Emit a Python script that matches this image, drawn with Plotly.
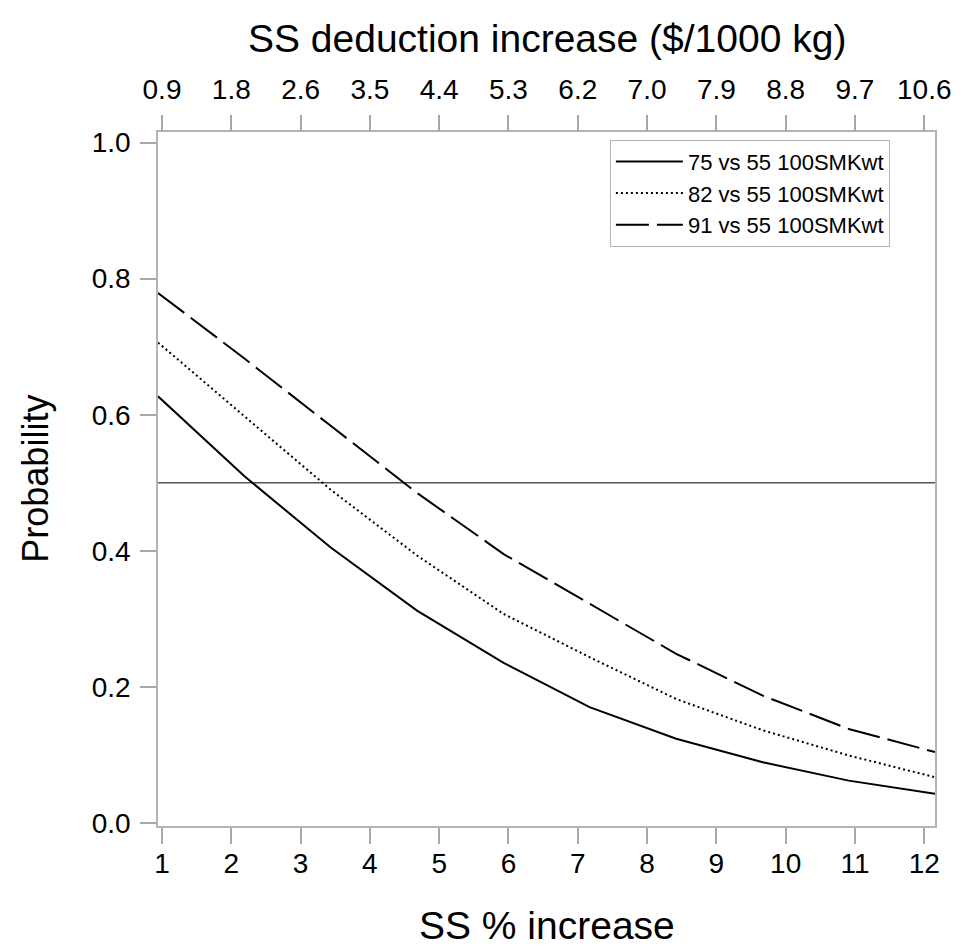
import plotly.graph_objects as go

# ---- data ----
X_NODES = [0.942, 2.19, 3.43, 4.68, 5.93, 7.17, 8.42, 9.67, 10.91, 12.155]
P_75 = [0.627, 0.5095, 0.405, 0.312, 0.235, 0.170, 0.1235, 0.089, 0.062, 0.0426]
P_82 = [0.706, 0.598, 0.490, 0.393, 0.307, 0.2435, 0.182, 0.136, 0.099, 0.067]
P_91 = [0.779, 0.6825, 0.584, 0.485, 0.395, 0.322, 0.2485, 0.187, 0.138, 0.104]
SERIES_NAMES = ["75 vs 55 100SMKwt", "82 vs 55 100SMKwt", "91 vs 55 100SMKwt"]

BOTTOM_TICKS = [1, 2, 3, 4, 5, 6, 7, 8, 9, 10, 11, 12]
TOP_LABELS = ["0.9", "1.8", "2.6", "3.5", "4.4", "5.3", "6.2", "7.0", "7.9", "8.8", "9.7", "10.6"]
Y_TICKS = [0.0, 0.2, 0.4, 0.6, 0.8, 1.0]
REF_PROB = 0.5

X_TITLE = "SS % increase"
TOP_TITLE = "SS deduction increase ($/1000 kg)"
Y_TITLE = "Probability"

FONT = "Liberation Sans, Arial, sans-serif"
FRAME = "#b4b4b4"
TICKC = "#a8a8a8"

fig = go.Figure()
dashes = ["solid", "2px,3px", "33px,8px"]
for name, ys, dash in zip(SERIES_NAMES, [P_75, P_82, P_91], dashes):
    fig.add_trace(go.Scatter(x=X_NODES, y=ys, mode="lines", name=name,
                             line=dict(color="black", width=2, dash=dash)))

# invisible trace to activate top axis
fig.add_trace(go.Scatter(x=BOTTOM_TICKS, y=[None] * len(BOTTOM_TICKS), xaxis="x2",
                         mode="lines", showlegend=False, hoverinfo="skip"))

fig.add_shape(type="line", xref="paper", x0=0, x1=1, yref="y", y0=REF_PROB, y1=REF_PROB,
              line=dict(color="#555555", width=1.5), layer="below")

XR = [0.942, 12.155]
TICKFONT = dict(size=28)
fig.update_layout(
    width=965, height=950, autosize=False,
    margin=dict(l=158, r=30, t=132, b=124),
    paper_bgcolor="white", plot_bgcolor="white",
    font=dict(family=FONT, color="black"),
    showlegend=True,
    legend=dict(x=0.5816, y=0.989, xanchor="left", yanchor="top",
                bgcolor="white", bordercolor=FRAME, borderwidth=1,
                font=dict(size=22, family=FONT), itemwidth=67,
                tracegroupgap=0),
    xaxis=dict(range=XR, tickvals=BOTTOM_TICKS, ticks="outside", ticklen=16,
               tickcolor=TICKC, tickwidth=1.5, showline=True, linecolor=FRAME,
               linewidth=1.5, mirror=True, showgrid=False, zeroline=False,
               tickfont=TICKFONT, ticklabelstandoff=-4),
    xaxis2=dict(range=XR, overlaying="x", side="top", anchor="y",
                tickvals=BOTTOM_TICKS, ticktext=TOP_LABELS, ticks="outside",
                ticklen=16, tickcolor=TICKC, tickwidth=1.5, showline=False,
                showgrid=False, zeroline=False, tickfont=TICKFONT,
                ticklabelstandoff=5),
    yaxis=dict(range=[-0.0047, 1.0156], tickvals=Y_TICKS, tickformat=".1f",
               ticks="outside", ticklen=16, tickcolor=TICKC, tickwidth=1.5,
               showline=True, linecolor=FRAME, linewidth=1.5, mirror=True,
               showgrid=False, zeroline=False, tickfont=TICKFONT,
               ticklabelstandoff=4),
    annotations=[
        dict(text=X_TITLE, xref="paper", yref="paper", x=0.5, y=-0.1434,
             xanchor="center", yanchor="middle", showarrow=False,
             font=dict(size=39)),
        dict(text=TOP_TITLE, xref="paper", yref="paper", x=0.5, y=1.135,
             xanchor="center", yanchor="middle", showarrow=False,
             font=dict(size=39)),
        dict(text=Y_TITLE, xref="paper", yref="paper", x=-0.1587, y=0.5,
             xanchor="center", yanchor="middle", showarrow=False,
             textangle=-90, font=dict(size=36)),
    ],
)

fig.write_html("out.html")
